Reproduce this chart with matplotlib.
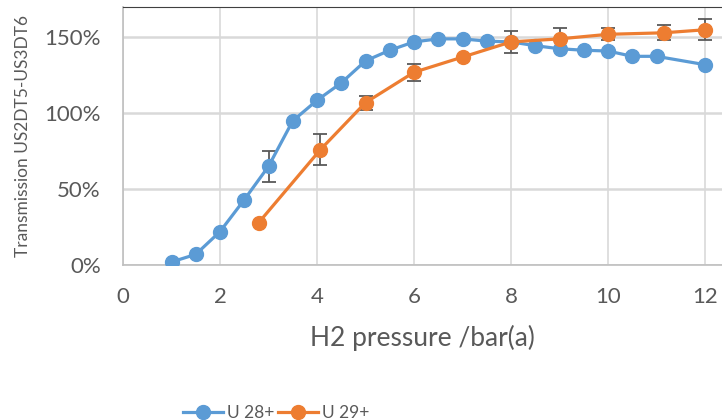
import matplotlib.pyplot as plt
from matplotlib.ticker import FuncFormatter

plt.rcParams['font.family'] = ['Lato', 'DejaVu Sans']

# U 28+
x28 = [1, 1.5, 2, 2.5, 3, 3.5, 4, 4.5, 5, 5.5, 6, 6.5, 7, 7.5, 8, 8.5, 9, 9.5, 10, 10.5, 11, 12]
y28 = [0.02, 0.07, 0.22, 0.43, 0.65, 0.95, 1.085, 1.20, 1.345, 1.415, 1.47, 1.49, 1.49, 1.475,
       1.47, 1.445, 1.425, 1.415, 1.41, 1.375, 1.375, 1.32]
e28 = [0, 0, 0, 0, 0.10, 0, 0, 0, 0, 0, 0, 0, 0, 0, 0, 0, 0, 0, 0, 0, 0, 0]

# U 29+
x29 = [2.8, 4.07, 5, 6, 7, 8, 9, 10, 11.15, 12]
y29 = [0.28, 0.76, 1.07, 1.27, 1.37, 1.47, 1.49, 1.52, 1.53, 1.55]
e29 = [0, 0.10, 0.046, 0.056, 0, 0.07, 0.07, 0.04, 0.05, 0.07]

blue = '#5B9BD5'
orange = '#ED7D31'
txt = '#595959'

fig = plt.figure(figsize=(7.22, 4.2), dpi=100)
ax = fig.add_axes([123/722, 1-265/420, 1-123/722, (265-7)/420])

# only draw error bars where there is one
i28 = [i for i, e in enumerate(e28) if e > 0]
ax.errorbar([x28[i] for i in i28], [y28[i] for i in i28], yerr=[e28[i] for i in i28],
            fmt='none', ecolor=txt, elinewidth=1.3, capsize=5, capthick=1.3, zorder=2)
i29 = [i for i, e in enumerate(e29) if e > 0]
ax.errorbar([x29[i] for i in i29], [y29[i] for i in i29], yerr=[e29[i] for i in i29],
            fmt='none', ecolor=txt, elinewidth=1.3, capsize=5, capthick=1.3, zorder=2)
ax.plot(x28, y28, '-o', color=blue, lw=2.3, ms=10, label='U 28+', zorder=3)
ax.plot(x29, y29, '-o', color=orange, lw=2.3, ms=10, label='U 29+', zorder=4)

ax.set_xlim(0, 12.35)
ax.set_ylim(0, 1.7)
ax.set_xticks(range(0, 13, 2))
ax.set_yticks([0, 0.5, 1.0, 1.5])
ax.yaxis.set_major_formatter(FuncFormatter(lambda v, p: f'{v*100:.0f}%'))
ax.grid(axis='x', color='#d9d9d9', lw=1.2)
ax.grid(axis='y', color='#d9d9d9', lw=1.8)
ax.set_axisbelow(True)
ax.tick_params(length=0, labelsize=16, colors=txt)
ax.tick_params(axis='x', pad=16)
ax.tick_params(axis='y', pad=16)
for s in ['left', 'bottom']:
    ax.spines[s].set_color('#bfbfbf')
    ax.spines[s].set_linewidth(1.2)
ax.spines['right'].set_visible(False)
ax.spines['top'].set_color('#404040')
ax.spines['top'].set_linewidth(0.8)

ax.set_xlabel('H2 pressure /bar(a)', fontsize=19, color=txt, labelpad=13)
ax.set_ylabel('Transmission US2DT5-US3DT6', fontsize=12.5, color=txt)
ax.yaxis.set_label_coords(-92/599, 0.5)

fig.legend(loc='center', bbox_to_anchor=(276/722, 1-413/420), ncol=2, frameon=False,
           fontsize=12.5, labelcolor=txt,
           handlelength=2.3, columnspacing=0.2, handletextpad=0.25)

fig.savefig('out.png', dpi=100)
